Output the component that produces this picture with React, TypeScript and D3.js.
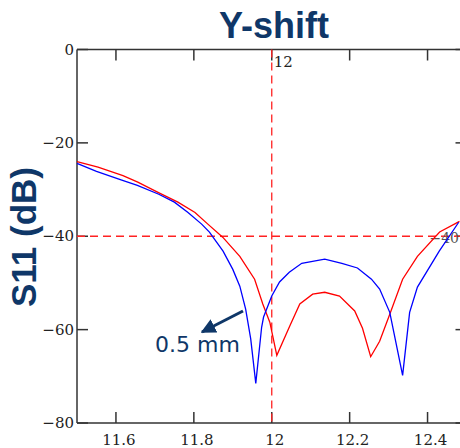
import React from "react";
import * as d3 from "d3";

// Y-shift sweep: S11 (dB) vs frequency (GHz)
const blueFreq = [11.5, 11.55, 11.615, 11.655, 11.71, 11.75, 11.785, 11.82, 11.84, 11.875, 11.9, 11.918, 11.933, 11.946, 11.959, 11.974, 11.979, 12.0, 12.02, 12.045, 12.077, 12.136, 12.18, 12.22, 12.256, 12.277, 12.303, 12.336, 12.354, 12.374, 12.43, 12.48];
const blueDb = [-24.4, -26.1, -28.0, -29.1, -31.0, -32.7, -34.9, -37.4, -39.1, -43.2, -47.1, -50.7, -55.6, -62.0, -71.5, -59.5, -57.3, -52.8, -49.8, -47.7, -45.8, -44.9, -45.8, -46.8, -49.2, -51.3, -56.3, -69.8, -56.3, -50.9, -43.2, -37.0];

const redFreq = [11.5, 11.554, 11.618, 11.656, 11.708, 11.759, 11.803, 11.836, 11.874, 11.918, 11.956, 11.977, 11.995, 12.013, 12.046, 12.072, 12.105, 12.136, 12.174, 12.213, 12.233, 12.254, 12.277, 12.303, 12.336, 12.374, 12.431, 12.482];
const redDb = [-24.0, -25.2, -27.0, -28.4, -30.6, -32.7, -34.9, -37.4, -40.2, -44.3, -49.2, -54.5, -58.4, -65.5, -59.3, -54.5, -52.4, -52.0, -52.8, -56.0, -59.7, -65.8, -62.5, -56.7, -49.2, -44.3, -39.1, -36.8];

const xTicks = [11.6, 11.8, 12, 12.2, 12.4];
const yTicks = [0, -20, -40, -60, -80];
const markerX = 12;
const markerY = -40;

const navy = "#0f3768";
const serif = "'DejaVu Serif', 'Liberation Serif', serif";
const sans = "'Liberation Sans', Arial, sans-serif";

function App() {
  const width = 460;
  const height = 448;
  const x = d3.scaleLinear().domain([11.5, 12.5]).range([77, 466.5]);
  const y = d3.scaleLinear().domain([0, -80]).range([49.5, 423]);

  const line = d3
    .line<[number, number]>()
    .x((d) => x(d[0]))
    .y((d) => y(d[1]));

  const blue = blueFreq.map((f, i) => [f, blueDb[i]] as [number, number]);
  const red = redFreq.map((f, i) => [f, redDb[i]] as [number, number]);

  const [x0, x1] = x.range();
  const [y0, y1] = y.range();
  const fmt = (v: number) => (v < 0 ? "\u2212" + Math.abs(v) : String(v));
  const axisColor = "#333";
  const tickLen = 11;

  return (
    <svg
      width={width}
      height={height}
      style={{ position: "absolute", left: 0, top: 0, background: "#fff" }}
    >
      <defs>
        <marker id="arrow" viewBox="0 0 10 10" refX="9" refY="5" markerWidth="5" markerHeight="5" orient="auto">
          <path d="M0,0 L10,5 L0,10 z" fill={navy} />
        </marker>
      </defs>

      {/* title */}
      <text x={274} y={38} textAnchor="middle" fontFamily={sans} fontWeight="bold" fontSize={36} fill={navy}>
        Y-shift
      </text>
      <text
        transform={`translate(36,237) rotate(-90)`}
        textAnchor="middle"
        fontFamily={sans}
        fontWeight="bold"
        fontSize={35}
        fill={navy}
      >
        S11 (dB)
      </text>

      {/* frame */}
      <g stroke={axisColor} strokeWidth={1.5} fill="none">
        <line x1={x0} x2={x1} y1={y0} y2={y0} />
        <line x1={x0} x2={x1} y1={y1} y2={y1} />
        <line x1={x0} x2={x0} y1={y0} y2={y1} />
        <line x1={x1} x2={x1} y1={y0} y2={y1} />
        {xTicks.map((t) => (
          <g key={t}>
            <line x1={x(t)} x2={x(t)} y1={y0} y2={y0 + tickLen} />
            <line x1={x(t)} x2={x(t)} y1={y1} y2={y1 - tickLen} />
          </g>
        ))}
        {yTicks.map((t) => (
          <g key={t}>
            <line x1={x0} x2={x0 + tickLen} y1={y(t)} y2={y(t)} />
            <line x1={x1} x2={x1 - tickLen} y1={y(t)} y2={y(t)} />
          </g>
        ))}
      </g>

      {/* tick labels */}
      <g fontFamily={serif} fontSize={15} fill="#222">
        {xTicks.map((t) => (
          <text key={t} x={x(t) + 3} y={445} textAnchor="middle">
            {String(t)}
          </text>
        ))}
        {yTicks.map((t) => (
          <text key={t} x={x0 - 3} y={y(t) + 5} textAnchor="end">
            {fmt(t)}
          </text>
        ))}
      </g>

      {/* marker lines */}
      <g stroke="#f22" strokeWidth={1.3} strokeDasharray="8,5" fill="none">
        <line x1={x(markerX)} x2={x(markerX)} y1={y0} y2={y1} />
        <line x1={x0} x2={x1} y1={y(markerY)} y2={y(markerY)} />
      </g>
      <text x={x(markerX) + 2} y={67} fontFamily={serif} fontSize={15} fill="#222">
        {String(markerX)}
      </text>
      <text x={459} y={243} textAnchor="end" fontFamily={serif} fontSize={14} fill="#555">
        {fmt(markerY)}
      </text>

      {/* curves */}
      <path d={line(red) ?? ""} fill="none" stroke="#ff0000" strokeWidth={1.3} />
      <path d={line(blue) ?? ""} fill="none" stroke="#0000ff" strokeWidth={1.3} />

      {/* annotation */}
      <line x1={243} y1={311} x2={202} y2={332} stroke={navy} strokeWidth={3} markerEnd="url(#arrow)" />
      <text x={155} y={352} fontFamily="'DejaVu Sans', Verdana, sans-serif" fontSize={22} fill={navy}>
        0.5 mm
      </text>
    </svg>
  );
}

export default App;
